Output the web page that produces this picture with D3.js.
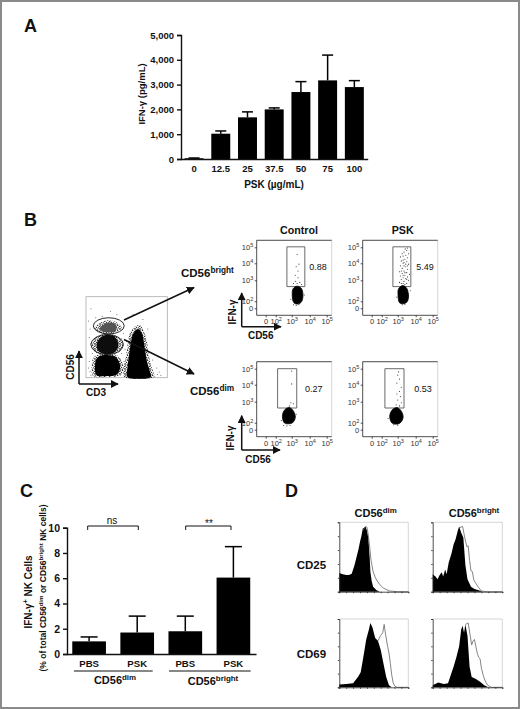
<!DOCTYPE html>
<html lang="en">
<head>
<meta charset="UTF-8">
<title>PSK IFN-gamma NK cells</title>
<script src="https://d3js.org/d3.v7.min.js"></script>
<style>
    body { margin: 0; background: #fff; }
    svg { display: block; }
    text { font-family: "Liberation Sans", Arial, sans-serif; fill: #111; }
    .b { font-weight: bold; }
    .axis path, .axis line { stroke: #111; stroke-width: 1.4px; }
    .axis text { font-family: "Liberation Sans", Arial, sans-serif; font-weight: bold; fill: #111; }
    .flow path, .flow line { stroke: #222; stroke-width: 0.8px; }
    .flow text { font-size: 7.5px; fill: #333; font-weight: normal; }
</style>
</head>
<body>
<svg width="520" height="709"></svg>
<script>
// panel A
const doses = ["0", "12.5", "25", "37.5", "50", "75", "100"];
const ifnMean = [30, 1020, 1680, 2000, 2700, 3170, 2900];
const ifnTop = [40, 1130, 1900, 2060, 3120, 4190, 3160];
const ifnTicks = [0, 1000, 2000, 3000, 4000, 5000];

// panel C
const groups = ["dimPBS", "dimPSK", "brightPBS", "brightPSK"];
const groupLabels = ["PBS", "PSK", "PBS", "PSK"];
const pctMean = [1.0, 1.7, 1.8, 6.05];
const pctTop = [1.35, 3.0, 3.0, 8.5];
const pctTicks = [0, 2, 4, 6, 8, 10];

// panel B, main dot plot, contours in % of the box
const lowerHalo = [[7,13],[10,26],[25,30],[39,27],[46,14],[43,3],[25,1],[9,2]];
const lowerCore = [[11,14],[14,25],[26,28],[37,25],[42,14],[38,4],[25,2],[13,3]];
const middleHalo = [[7,40],[12,50],[26,54],[40,50],[46,40],[40,31],[26,28],[12,31]];
const middleCore = [[13,41],[18,50],[27,53],[36,50],[40,40],[35,31],[26,29],[16,32]];
const upperHalo = [[11,61],[18,68],[28,71],[38,68],[44,61],[36,56],[26,54],[17,56]];
const upperCore = [[17,61],[24,67],[31,68],[38,63],[35,57],[26,56],[20,57]];
const columnHalo = [[47,1],[46,10],[49,25],[51,40],[54,55],[60,63],[66,65],[71,58],[75,44],[77,30],[80,15],[84,4],[84,1]];
const columnCore = [[51,1],[51,12],[53,28],[55,42],[58,54],[64,60],[69,54],[72,38],[75,20],[79,6],[80,1]];
const mainSpecks = [[6,85],[12,74],[5,60],[8,30],[4,20],[48,72],[46,55],[44,30],[47,20],[87,12],[88,4],[92,3],[5,8],[70,72],[45,10],[30,82],[50,45],[48,35],[6,42],[3,12],[38,78],[58,78],[76,60],[82,22],[3,70],[4,50],[90,7],[20,76],[44,48],[6,3]];
const gateUpper = { cx: 28, cy: 64, rx: 19, ry: 10 };
const gateMiddle = { cx: 26, cy: 41, rx: 20, ry: 12.3 };

// panel B, gated plots, values in decades (1 is the 0 tick)
const flowTicks = [1, 2, 3, 4, 5];
const flowTickBase = ["0", "10", "10", "10", "10"];
const flowTickSup = ["", "2", "3", "4", "5"];

const brightBlobLeft = [[3.03,2.3],[3.08,2.6],[3.3,2.72],[3.55,2.6],[3.62,2.2],[3.52,1.85],[3.33,1.6],[3.12,1.8]];
const brightBlobRight = [[3.02,2.3],[3.05,2.6],[3.28,2.75],[3.5,2.62],[3.6,2.2],[3.5,1.85],[3.3,1.65],[3.1,1.8]];
const dimBlobLeft = [[2.42,2.3],[2.55,2.6],[2.85,2.72],[3.1,2.55],[3.2,2.25],[3.05,2.0],[2.8,1.85],[2.55,1.95]];
const dimBlobRight = [[2.5,2.3],[2.65,2.6],[2.95,2.72],[3.2,2.55],[3.3,2.25],[3.15,2.0],[2.95,1.8],[2.65,1.95]];

const speckControlBright = [[3.3,4.55],[3.4,3.95],[3.25,3.8],[3.35,3.55],[3.2,3.3],[3.35,3.15],[3.2,2.95],[3.45,2.9],[3.1,2.85],[3.3,2.85],[3.55,2.8],[3.7,2.3],[2.95,2.1],[3.25,1.4],[3.1,1.5],[3.4,1.5]];
const speckPskBright = [[3.55,4.95],[3.5,4.8],[3.35,4.7],[3.6,4.6],[3.3,4.45],[3.55,4.35],[3.4,4.25],[3.2,4.15],[3.5,4.1],[3.3,4],[3.6,3.95],[3.15,3.85],[3.45,3.8],[3.25,3.7],[3.55,3.65],[3.35,3.55],[3.1,3.5],[3.5,3.45],[3.25,3.4],[3.65,3.35],[3.4,3.3],[3.15,3.25],[3.55,3.2],[3.3,3.15],[3.45,3.1],[3.2,3.05],[3.6,3],[3.35,2.95],[3.1,2.9],[3.5,2.85],[3.3,2.85],[3.7,2.5],[2.95,2.2],[3.25,1.5],[3.4,1.55],[3.42,4.9],[3.25,4.6],[3.45,4.5],[3.3,4.2],[3.45,3.95],[3.35,3.85],[3.55,3.85],[3.2,3.55],[3.4,3.45],[3.3,3.3],[3.5,3.05],[3.2,2.85],[3.4,2.8],[3.35,4.05],[3.15,4.4]];
const speckControlDim = [[3,4.85],[3,4.05],[2.95,2.95],[3.1,2.9],[2.85,2.8],[3.25,2.4],[2.35,2.1],[2.5,1.6],[2.7,1.55],[2.9,1.6]];
const speckPskDim = [[3.05,4.8],[3,4.6],[3.1,4.35],[2.95,4.1],[3.2,3.85],[3.1,3.6],[2.95,3.45],[3.15,3.3],[3,3.1],[3.2,2.95],[2.9,2.85],[3.1,2.8],[2.4,2.2],[2.75,1.7],[3,1.65]];

const gateBright = [[2.7,5.03],[3.73,5.03],[3.73,2.7],[2.7,2.7]];
const gateDim = [[2.12,5],[3.28,5],[3.28,2.7],[2.12,2.7]];
const gateDimPsk = [[2.2,5],[3.35,5],[3.35,2.7],[2.2,2.7]];

// panel D histograms, [% of box width, % of box height]
const cd25DimIso = [[0,27],[5,25],[10,24],[14,24],[18,26],[22,38],[25,50],[28,62],[30,72],[32,80],[34,91],[36,92],[38,94],[40,88],[42,78],[44,50],[45,29],[47,15],[49,7],[54,2],[59,0],[100,0]];
const cd25DimPsk = [[34,88],[38,94],[40,93],[42,82],[44,65],[46,45],[49,29],[52,21],[54,17],[58,11],[64,5],[73,1],[85,0],[100,0]];
const cd25BrightIso = [[0,25],[4,22],[7,18],[10,24],[13,28],[15,22],[18,32],[20,25],[23,42],[27,55],[30,68],[33,76],[36,88],[38,94],[41,85],[44,78],[47,38],[50,18],[55,7],[60,4],[66,2],[72,0],[100,0]];
const cd25BrightPsk = [[38,92],[43,94],[46,78],[49,65],[51,66],[53,45],[55,30],[57,29],[59,17],[62,12],[66,6],[70,1],[78,0],[100,0]];
const cd69DimIso = [[0,4],[10,5],[20,6],[27,15],[31,22],[35,45],[39,70],[43,85],[45,94],[48,88],[52,72],[56,68],[60,55],[64,35],[68,15],[72,3],[76,0],[100,0]];
const cd69DimPsk = [[56,68],[60,76],[63,80],[65,92],[67,78],[70,60],[72,50],[74,35],[76,18],[78,7],[80,2],[84,0],[100,0]];
const cd69BrightIso = [[0,3],[8,7],[16,5],[22,6],[26,18],[30,30],[34,44],[38,60],[41,85],[43,90],[45,80],[47,92],[50,75],[53,30],[56,15],[62,12],[68,8],[74,3],[80,0],[100,0]];
const cd69BrightPsk = [[47,92],[51,94],[54,75],[56,62],[58,68],[60,70],[62,60],[64,50],[66,44],[68,42],[70,28],[73,16],[76,8],[79,3],[84,0],[100,0]];

// stipple tile for the dot clouds
const grainDots = [[0.6,0.8],[2.7,0.4],[4.4,1.3],[1.5,2.3],[3.4,2.8],[0.4,3.9],[2.2,4.2],[4.5,3.9]];

const svg = d3.select("svg");
const defs = svg.append("defs");

defs.append("marker").attr("id", "head")
    .attr("viewBox", "0 0 10 10").attr("refX", 9).attr("refY", 5)
    .attr("markerUnits", "userSpaceOnUse")
    .attr("markerWidth", 8).attr("markerHeight", 8).attr("orient", "auto")
    .append("path").attr("d", "M0,0L10,5L0,10Z").attr("fill", "#111");
defs.append("filter").attr("id", "soft").append("feGaussianBlur").attr("stdDeviation", 0.5);
defs.append("filter").attr("id", "haze").append("feGaussianBlur").attr("stdDeviation", 0.3);

let grain = defs.append("pattern").attr("id", "grain")
    .attr("patternUnits", "userSpaceOnUse").attr("width", 5).attr("height", 5);
grain.selectAll("circle").data(grainDots).enter().append("circle")
    .attr("cx", d => d[0]).attr("cy", d => d[1]).attr("r", 0.6).attr("fill", "#111");

svg.append("rect").attr("x", 1).attr("y", 1).attr("width", 518).attr("height", 707)
    .attr("fill", "none").attr("stroke", "#8a8a8a").attr("stroke-width", 2);

function label(x, y, size, base, sup, opts) {
    opts = opts || {};
    let t = svg.append("text")
        .attr("font-size", size)
        .attr("text-anchor", opts.anchor || "middle")
        .attr("class", opts.plain ? null : "b")
        .attr("transform", `translate(${x},${y})` + (opts.rot ? ` rotate(${opts.rot})` : ""));
    t.append("tspan").text(base);
    if (sup) {
        t.append("tspan").attr("font-size", size * 0.72).attr("dy", -size * 0.38).text(sup);
        if (opts.rest) t.append("tspan").attr("dy", size * 0.38).text(opts.rest);
    }
    return t;
}

function arrow(x1, y1, x2, y2, w) {
    svg.append("line").attr("x1", x1).attr("y1", y1).attr("x2", x2).attr("y2", y2)
        .attr("stroke", "#111").attr("stroke-width", w || 1.5)
        .attr("marker-end", "url(#head)");
}

// bars with upward error caps, shared by A and C
function barPanel(g, x, y, keys, mean, top, capW) {
    keys.forEach((k, i) => {
        g.append("line")
            .attr("x1", x(k) + x.bandwidth() / 2).attr("x2", x(k) + x.bandwidth() / 2)
            .attr("y1", y(mean[i])).attr("y2", y(top[i]))
            .attr("stroke", "#000").attr("stroke-width", 1.5);
        g.append("line")
            .attr("x1", x(k) + x.bandwidth() / 2 - capW).attr("x2", x(k) + x.bandwidth() / 2 + capW)
            .attr("y1", y(top[i])).attr("y2", y(top[i]))
            .attr("stroke", "#000").attr("stroke-width", 1.5);
        g.append("rect")
            .attr("x", x(k)).attr("width", x.bandwidth())
            .attr("y", y(mean[i])).attr("height", y(0) - y(mean[i]))
            .attr("fill", "#000");
    });
}

/* ---------- A ---------- */
label(24, 32, 18, "A", null, { anchor: "start" });
let xA = d3.scaleBand().domain(doses).range([180.7, 367.7]).paddingInner(0.29).paddingOuter(0.145);
let yA = d3.scaleLinear().domain([0, 5000]).range([159, 35]);
let gA = svg.append("g");
barPanel(gA, xA, yA, doses, ifnMean, ifnTop, 5.5);
gA.append("g").attr("class", "axis").attr("transform", "translate(0,159)")
    .call(d3.axisBottom(xA).tickSize(0).tickPadding(6))
    .call(s => s.selectAll("text").attr("font-size", 9.5));
gA.append("g").attr("class", "axis").attr("transform", "translate(181,0)")
    .call(d3.axisLeft(yA).tickValues(ifnTicks).tickFormat(d3.format(",")).tickSize(4).tickPadding(3))
    .call(s => s.selectAll("text").attr("font-size", 9.5));
label(145, 94, 9.5, "IFN-\u03b3 (pg/mL)", null, { rot: -90 });
label(274, 188, 10, "PSK (\u00b5g/mL)");

/* ---------- B ---------- */
label(24, 226, 18, "B", null, { anchor: "start" });

let xM = d3.scaleLinear().domain([0, 100]).range([86, 167.3]);
let yM = d3.scaleLinear().domain([0, 100]).range([377.7, 296.7]);
let cloud = d3.line().x(d => xM(d[0])).y(d => yM(d[1])).curve(d3.curveCatmullRomClosed);
let gM = svg.append("g");
gM.append("rect").attr("x", xM(0)).attr("y", yM(100)).attr("width", xM(100) - xM(0)).attr("height", yM(0) - yM(100))
    .attr("fill", "#fff").attr("stroke", "#aaa").attr("stroke-width", 0.8);
[upperHalo, middleHalo, lowerHalo, columnHalo].forEach(c => {
    gM.append("path").attr("d", cloud(c)).attr("fill", "url(#grain)").attr("filter", "url(#haze)");
});
gM.append("path").attr("d", cloud(upperCore)).attr("fill", "#555").attr("filter", "url(#soft)");
gM.append("path").attr("d", cloud(middleCore)).attr("fill", "#111").attr("filter", "url(#soft)");
gM.append("path").attr("d", cloud(lowerCore)).attr("fill", "#000").attr("filter", "url(#soft)");
gM.append("path").attr("d", cloud(columnCore)).attr("fill", "#000").attr("filter", "url(#soft)");
gM.selectAll("circle.sp").data(mainSpecks).enter().append("circle").attr("class", "sp")
    .attr("cx", d => xM(d[0])).attr("cy", d => yM(d[1])).attr("r", 0.5).attr("fill", "#555");
[gateUpper, gateMiddle].forEach(e => {
    gM.append("ellipse").attr("cx", xM(e.cx)).attr("cy", yM(e.cy))
        .attr("rx", xM(e.rx) - xM(0)).attr("ry", yM(0) - yM(e.ry))
        .attr("fill", "none").attr("stroke", "#111").attr("stroke-width", 0.9);
});
arrow(79, 384, 118, 384);
arrow(79, 384, 79, 351);
label(96, 396, 10, "CD3");
label(74, 367, 10, "CD56", null, { rot: -90 });
arrow(124, 320, 194, 287.5);
arrow(124, 339.5, 194, 374);
label(181, 277, 11.5, "CD56", "bright", { anchor: "start" });
label(190, 395, 11.5, "CD56", "dim", { anchor: "start" });

function flowPlot(left, top, blob, specks, gate) {
    let x = d3.scaleLinear().domain(flowTicks).range([left + 9, left + 19, left + 35, left + 53, left + 70]);
    let y = d3.scaleLinear().domain(flowTicks).range([top + 68, top + 61, top + 40, top + 23, top + 7]);
    let g = svg.append("g");
    g.append("path").attr("d", `M${left},${top}H${left + 75}V${top + 75}`)
        .attr("fill", "none").attr("stroke", "#bbb").attr("stroke-width", 0.6);
    g.append("line").attr("x1", left).attr("x2", left + 75).attr("y1", top).attr("y2", top)
        .attr("stroke", "#555").attr("stroke-width", 1);
    g.append("g").attr("class", "axis flow").attr("transform", `translate(${left},0)`)
        .call(d3.axisLeft(y).tickValues(flowTicks).tickSize(2).tickPadding(1.5).tickFormat(""))
        .call(s => s.select("path").attr("d", `M0,${top}V${top + 75}`))
        .call(s => s.selectAll(".tick").each(function (d, i) {
            let t = d3.select(this).select("text").text(flowTickBase[i]);
            t.append("tspan").attr("font-size", 5.5).attr("dy", -3).text(flowTickSup[i]);
        }));
    g.append("g").attr("class", "axis flow").attr("transform", `translate(0,${top + 75})`)
        .call(d3.axisBottom(x).tickValues(flowTicks).tickSize(2).tickPadding(1.5).tickFormat(""))
        .call(s => s.select("path").attr("d", `M${left},0H${left + 75}`))
        .call(s => s.selectAll(".tick").each(function (d, i) {
            let t = d3.select(this).select("text").text(flowTickBase[i]);
            t.append("tspan").attr("font-size", 5.5).attr("dy", -3).text(flowTickSup[i]);
        }));
    let line = d3.line().x(d => x(d[0])).y(d => y(d[1]));
    g.append("path").attr("d", line(gate) + "Z").attr("fill", "none").attr("stroke", "#444").attr("stroke-width", 0.8);
    g.selectAll("circle").data(specks).enter().append("circle")
        .attr("cx", d => x(d[0])).attr("cy", d => y(d[1])).attr("r", 0.55).attr("fill", "#333");
    g.append("path").attr("d", line.curve(d3.curveCatmullRomClosed)(blob))
        .attr("fill", "#000").attr("stroke", "#000").attr("stroke-width", 0.8)
        .attr("filter", "url(#haze)");
}

flowPlot(256.7, 240.3, brightBlobLeft, speckControlBright, gateBright);
flowPlot(362.7, 240.3, brightBlobRight, speckPskBright, gateBright);
flowPlot(256.7, 361.7, dimBlobLeft, speckControlDim, gateDim);
flowPlot(362.7, 361.7, dimBlobRight, speckPskDim, gateDimPsk);

label(299, 234, 10.7, "Control");
label(402.7, 234, 10.7, "PSK");
label(318, 270, 9, "0.88", null, { plain: true });
label(425, 270, 9, "5.49", null, { plain: true });
label(313.7, 392, 9, "0.27", null, { plain: true });
label(423, 392, 9, "0.53", null, { plain: true });

arrow(241.7, 326.7, 241.7, 293);
arrow(241.7, 326.7, 281, 326.7);
label(236, 312, 10, "IFN-\u03b3", null, { rot: -90 });
label(260.7, 339, 10, "CD56");
arrow(241.7, 450, 241.7, 415.7);
arrow(241.7, 450, 280, 450);
label(234, 438, 10, "IFN-\u03b3", null, { rot: -90 });
label(258, 463, 10, "CD56");

/* ---------- C ---------- */
label(20, 497, 18, "C", null, { anchor: "start" });
let xC = d3.scaleBand().domain(groups).range([66.5, 256]).paddingInner(0.3).paddingOuter(0.12);
let yC = d3.scaleLinear().domain([0, 10]).range([654, 527.7]);
let gC = svg.append("g");
barPanel(gC, xC, yC, groups, pctMean, pctTop, 8.5);
gC.append("g").attr("class", "axis").attr("transform", "translate(0,654)")
    .call(d3.axisBottom(xC).tickFormat((d, i) => groupLabels[i]).tickSize(0).tickPadding(6))
    .call(s => s.selectAll("text").attr("font-size", 9.6));
gC.append("g").attr("class", "axis").attr("transform", "translate(67,0)")
    .call(d3.axisLeft(yC).tickValues(pctTicks).tickSize(4).tickPadding(3))
    .call(s => s.selectAll("text").attr("font-size", 10.5));

[[74, 152.7], [169, 250.7]].forEach(r => {
    gC.append("line").attr("x1", r[0]).attr("x2", r[1]).attr("y1", 671).attr("y2", 671)
        .attr("stroke", "#111").attr("stroke-width", 1);
});
[[87.7, 138.3], [185.7, 231]].forEach(r => {
    gC.append("path").attr("d", `M${r[0]},530V526H${r[1]}V530`)
        .attr("fill", "none").attr("stroke", "#111").attr("stroke-width", 1);
});
label(112, 524, 10, "ns", null, { plain: true });
label(209, 527, 10, "**", null, { plain: true });
label(115, 684, 11, "CD56", "dim");
label(213, 685, 11, "CD56", "bright");
label(32, 592, 10, "IFN-\u03b3", "+", { rot: -90, rest: " NK Cells" });
label(46, 588, 8.5, "(% of total CD56", "dim", { rot: -90, rest: " or CD56" })
    .call(t => {
        t.append("tspan").attr("font-size", 8.5 * 0.72).attr("dy", -3.2).text("bright");
        t.append("tspan").attr("dy", 3.2).text(" NK cells)");
    });

/* ---------- D ---------- */
label(285, 497, 18, "D", null, { anchor: "start" });
label(375.7, 517, 11, "CD56", "dim");
label(474, 517, 11, "CD56", "bright");
label(296.7, 569, 11.5, "CD25", null, { anchor: "start" });
label(296.7, 658, 11.5, "CD69", null, { anchor: "start" });

function histogram(left, top, w, h, filled, outline) {
    let x = d3.scaleLinear().domain([0, 100]).range([left, left + w]);
    let y = d3.scaleLinear().domain([0, 100]).range([top + h, top]);
    let g = svg.append("g");
    g.append("path").attr("d", `M${left},${top}H${left + w}V${top + h}`)
        .attr("fill", "none").attr("stroke", "#bbb").attr("stroke-width", 0.6);
    g.append("path")
        .attr("d", d3.area().x(d => x(d[0])).y0(y(0)).y1(d => y(d[1]))(filled))
        .attr("fill", "#000");
    g.append("path")
        .attr("d", d3.line().x(d => x(d[0])).y(d => y(d[1]))(outline))
        .attr("fill", "none").attr("stroke", "#666").attr("stroke-width", 0.8);
    g.append("g").attr("class", "axis flow").attr("transform", `translate(${left},0)`)
        .call(d3.axisLeft(y).ticks(5).tickSize(1.5).tickFormat(""));
    g.append("g").attr("class", "axis flow").attr("transform", `translate(0,${top + h})`)
        .call(d3.axisBottom(x).ticks(10).tickSize(1.5).tickFormat(""));
}
histogram(339.3, 522.3, 69, 69.4, cd25DimIso, cd25DimPsk);
histogram(432.7, 522.3, 69.6, 69.4, cd25BrightIso, cd25BrightPsk);
histogram(339.3, 619, 69, 68.3, cd69DimIso, cd69DimPsk);
histogram(432.7, 619, 69.6, 68.3, cd69BrightIso, cd69BrightPsk);
</script>
</body>
</html>
